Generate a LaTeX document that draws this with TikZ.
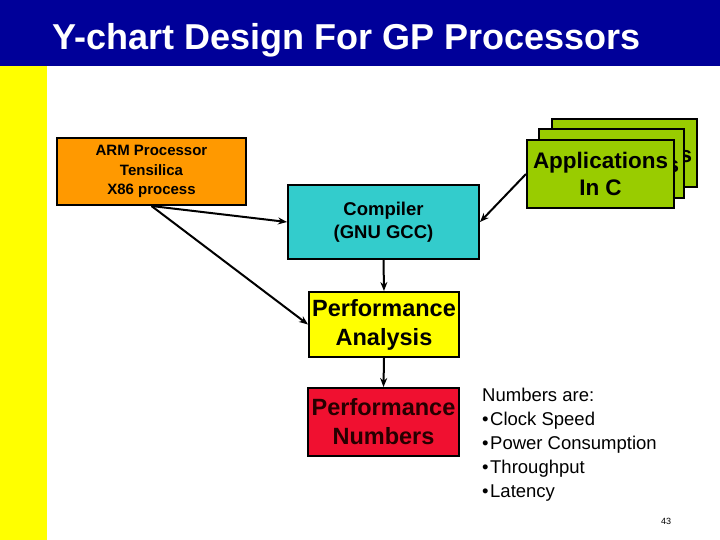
\documentclass[tikz,border=0pt]{standalone}
\usepackage{fontspec}
\setmainfont{Liberation Sans}
\usetikzlibrary{arrows.meta}
\definecolor{navybar}{RGB}{0,0,153}
\definecolor{orangebox}{RGB}{255,153,0}
\definecolor{cyanbox}{RGB}{51,204,204}
\definecolor{greenbox}{RGB}{153,204,0}
\definecolor{yellowbox}{RGB}{255,255,0}
\definecolor{redbox}{RGB}{240,16,48}
\tikzset{
  boxstyle/.style={draw=black, line width=2pt, inner sep=0pt, align=center, text=black},
  conn/.style={line width=2pt, -{Stealth[length=9pt,width=7pt]}},
}
\begin{document}
\begin{tikzpicture}[x=1pt,y=-1pt]
\useasboundingbox (0,0) rectangle (720,540);
\fill[white] (0,0) rectangle (720,540);
% title bar and side strip
\fill[navybar] (0,0) rectangle (720,66);
\fill[yellowbox] (0,66) rectangle (47,540);
\node[anchor=base west, text=white, font=\bfseries\fontsize{36}{40}\selectfont, inner sep=0pt] (title) at (52,50) {Y-chart Design For GP Processors};
% boxes
\node[boxstyle, fill=orangebox, minimum width=189pt, minimum height=67pt, font=\bfseries\fontsize{15}{19.5}\selectfont] (arm) at (151.5,171.5) {ARM Processor\\Tensilica\\X86 process};
\node[boxstyle, fill=cyanbox, minimum width=191pt, minimum height=74pt, font=\bfseries\fontsize{18.5}{23}\selectfont] (comp) at (383.5,222) {Compiler\\(GNU GCC)};
\node[boxstyle, fill=yellowbox, minimum width=150pt, minimum height=65pt, font=\bfseries\fontsize{23.5}{29}\selectfont] (pa) at (384,324.5) {Performance\\Analysis};
\node[boxstyle, fill=redbox, minimum width=151pt, minimum height=68pt, font=\bfseries\fontsize{23.5}{29}\selectfont, text={black!85!red}] (pn) at (383.5,422) {Performance\\Numbers};
% application stack
\node[boxstyle, fill=greenbox, minimum width=145pt, minimum height=68pt] (appback) at (624.5,153) {};
\node[font=\bfseries\fontsize{22.5}{27}\selectfont, inner sep=0pt] (appbacktxt) at (624.5,157) {Applications};
\node[boxstyle, fill=greenbox, minimum width=145pt, minimum height=69pt] (appmid) at (611.5,163.5) {};
\node[font=\bfseries\fontsize{22.5}{27}\selectfont, inner sep=0pt] (appmidtxt) at (611.5,167) {Applications};
\node[boxstyle, fill=greenbox, minimum width=147pt, minimum height=68pt, font=\bfseries\fontsize{22.5}{27}\selectfont] (app) at (600.5,174) {Applications\\In C};
% connectors
\draw[conn] (arm.south) -- (comp.west);
\draw[conn] (arm.south) -- (pa.west);
\draw[conn] (app.west) -- (comp.east);
\draw[conn] (comp.south) -- (pa.north);
\draw[conn] (pa.south) -- (pn.north);
% list
\node[anchor=north west, align=left, inner sep=0pt, font=\fontsize{18.5}{24}\selectfont] (list) at (482,388) {Numbers are:\\•\hspace{1.5pt}Clock Speed\\•\hspace{1.5pt}Power Consumption\\•\hspace{1.5pt}Throughput\\•\hspace{1.5pt}Latency};
\node[font=\fontsize{9}{10}\selectfont, inner sep=0pt] (pagenum) at (666,521) {43};
\end{tikzpicture}
\end{document}
